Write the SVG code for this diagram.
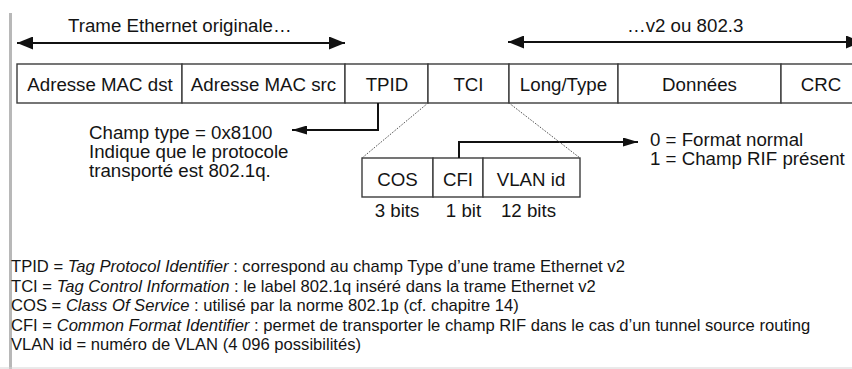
<svg xmlns="http://www.w3.org/2000/svg" width="852" height="369" viewBox="0 0 852 369">
  <style>
    text { font-family: "Liberation Sans", Arial, sans-serif; fill: #141414; }
    .lbl { font-size: 18.7px; }
    .mid { text-anchor: middle; }
    .note { font-size: 16.6px; }
    .it { font-style: italic; }
    .cell { fill: #ffffff; stroke: #3c3c3c; stroke-width: 1.4; }
    .wire { fill: none; stroke: #111111; stroke-width: 2; }
    .zoomline { fill: none; stroke: #555555; stroke-width: 1; stroke-dasharray: 1.6 1.4; }
  </style>
  <defs>
    <marker id="bigHead" markerUnits="userSpaceOnUse" markerWidth="17" markerHeight="13" refX="16" refY="6.5" orient="auto-start-reverse">
      <path d="M0,0 L16,6.5 L0,13 z" fill="#111111"/>
    </marker>
    <marker id="smallHead" markerUnits="userSpaceOnUse" markerWidth="16" markerHeight="9" refX="15" refY="4.5" orient="auto">
      <path d="M0,0 L15,4.5 L0,9 z" fill="#111111"/>
    </marker>
  </defs>

  <rect width="852" height="369" fill="#ffffff"/>
  <!-- binding edge shadow and bottom rule -->
  <rect x="9" y="13" width="3" height="356" fill="#b8b8b8"/>
  <line x1="0" y1="368" x2="852" y2="368" stroke="#d4d4d4" stroke-width="1"/>

  <!-- span labels -->
  <g id="span-original">
    <text class="lbl" x="68" y="32">Trame Ethernet originale…</text>
  </g>
  <g id="span-v2">
    <text class="lbl" x="627" y="32">…v2 ou 802.3</text>
  </g>

  <!-- tagged Ethernet frame -->
  <g id="field-mac-dst">
    <rect class="cell" x="17" y="64" width="165" height="39"/>
    <text class="lbl mid" x="100" y="91">Adresse MAC dst</text>
  </g>
  <g id="field-mac-src">
    <rect class="cell" x="182" y="64" width="163" height="39"/>
    <text class="lbl mid" x="263.5" y="91">Adresse MAC src</text>
  </g>
  <g id="field-tpid">
    <rect class="cell" x="345" y="64" width="83" height="39"/>
    <text class="lbl mid" x="387" y="91">TPID</text>
  </g>
  <g id="field-tci">
    <rect class="cell" x="428" y="64" width="81" height="39"/>
    <text class="lbl mid" x="468.5" y="91">TCI</text>
  </g>
  <g id="field-long-type">
    <rect class="cell" x="509" y="64" width="109" height="39"/>
    <text class="lbl mid" x="563.5" y="91">Long/Type</text>
  </g>
  <g id="field-donnees">
    <rect class="cell" x="618" y="64" width="163" height="39"/>
    <text class="lbl mid" x="699.5" y="91">Données</text>
  </g>
  <g id="field-crc">
    <rect class="cell" x="781" y="64" width="80" height="39"/>
    <text class="lbl mid" x="821" y="91">CRC</text>
  </g>

  <!-- TCI breakdown -->
  <g id="tci-cos">
    <rect class="cell" x="362" y="158" width="71" height="39"/>
    <text class="lbl mid" x="397.5" y="186">COS</text>
    <text class="lbl mid" x="397" y="217">3 bits</text>
  </g>
  <g id="tci-cfi">
    <rect class="cell" x="433" y="158" width="50" height="39"/>
    <text class="lbl mid" x="458" y="186">CFI</text>
    <text class="lbl mid" x="463.5" y="217">1 bit</text>
  </g>
  <g id="tci-vlan">
    <rect class="cell" x="483" y="158" width="97" height="39"/>
    <text class="lbl mid" x="531" y="186">VLAN id</text>
    <text class="lbl mid" x="528.5" y="217">12 bits</text>
  </g>

  <!-- annotations -->
  <g id="note-tpid">
    <text class="lbl" x="89" y="139">Champ type = 0x8100</text>
    <text class="lbl" x="89" y="158">Indique que le protocole</text>
    <text class="lbl" x="89" y="177">transporté est 802.1q.</text>
  </g>
  <g id="note-cfi">
    <text class="lbl" x="650" y="146">0 = Format normal</text>
    <text class="lbl" x="650" y="165">1 = Champ RIF présent</text>
  </g>

  <!-- connectors -->
  <g id="connectors">
    <line class="wire" x1="17" y1="43" x2="345" y2="43" marker-start="url(#bigHead)" marker-end="url(#bigHead)"/>
    <line class="wire" x1="508" y1="42" x2="862" y2="42" marker-start="url(#bigHead)" marker-end="url(#bigHead)"/>
    <path class="wire" d="M378,103 V130 H292" marker-end="url(#smallHead)"/>
    <path class="wire" d="M459,158 V142 H638" marker-end="url(#smallHead)"/>
    <line class="zoomline" x1="428" y1="103" x2="362" y2="158"/>
    <line class="zoomline" x1="509" y1="103" x2="580" y2="158"/>
  </g>

  <!-- glossary -->
  <g id="glossary">
    <text class="note" x="11" y="272">TPID = <tspan class="it">Tag Protocol Identifier</tspan> : correspond au champ Type d’une trame Ethernet v2</text>
    <text class="note" x="11" y="292">TCI = <tspan class="it">Tag Control Information</tspan> : le label 802.1q inséré dans la trame Ethernet v2</text>
    <text class="note" x="11" y="311">COS = <tspan class="it">Class Of Service</tspan> : utilisé par la norme 802.1p (cf. chapitre 14)</text>
    <text class="note" x="11" y="331">CFI = <tspan class="it">Common Format Identifier</tspan> : permet de transporter le champ RIF dans le cas d’un tunnel source routing</text>
    <text class="note" x="11" y="350">VLAN id = numéro de VLAN (4 096 possibilités)</text>
  </g>
</svg>
